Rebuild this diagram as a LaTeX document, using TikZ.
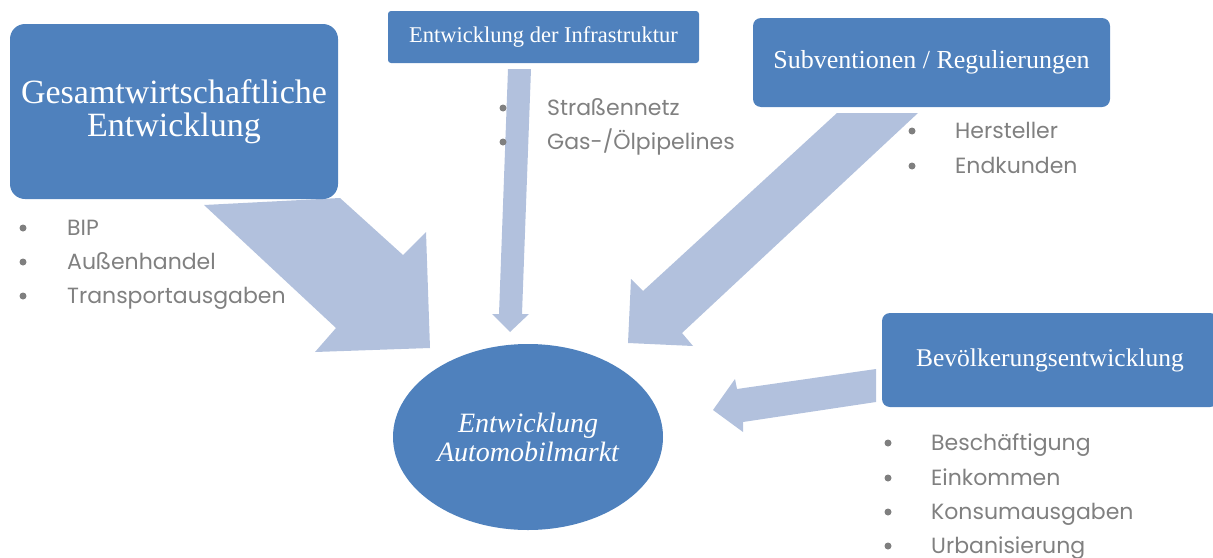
\documentclass[tikz,border=0pt]{standalone}
\usepackage{fontspec}
\setmainfont{Liberation Serif}
\newfontfamily\itemfont{Poppins}
\usetikzlibrary{shapes.geometric}
\definecolor{boxblue}{HTML}{4F81BD}
\definecolor{arrowblue}{HTML}{B2C1DD}
\definecolor{itemgrey}{HTML}{808080}
\definecolor{dotgrey}{HTML}{7F7F7F}
\begin{document}
\begin{tikzpicture}[x=1pt,y=-1pt,
  box/.style={fill=boxblue, text=white, inner sep=0pt, align=center},
  arr/.style={fill=arrowblue},
  item/.style={anchor=base west, inner sep=0pt, text=itemgrey, font=\itemfont\fontsize{22}{34}\selectfont},
  dot/.style={circle, fill=dotgrey, inner sep=0pt, minimum size=7pt}]
\useasboundingbox (0,0) rectangle (1213,557);
\clip (0,0) rectangle (1213,557);

% block arrows
\fill[arr] (204,205) -- (336,328) -- (315,352) -- (430,348) -- (426,232) -- (403,255) -- (340,198) -- cycle;
\fill[arr] (508,69) -- (499,314) -- (492,314) -- (510,332) -- (529,314) -- (522,314) -- (531,69) -- cycle;
\fill[arr] (837,113) -- (643,291) -- (631,279) -- (628,343) -- (693,346) -- (682,333) -- (918,113) -- cycle;
\fill[arr] (876,369) -- (737,389) -- (735,379) -- (713,410) -- (743,432) -- (743,422) -- (876,402) -- cycle;

% boxes
\node[box, rectangle, rounded corners=15pt, minimum width=328pt, minimum height=175pt,
  font=\fontsize{34}{33}\selectfont] (ges) at (174,111.5) {Gesamtwirtschaftliche\\Entwicklung};
\node[box, rectangle, rounded corners=3pt, minimum width=311pt, minimum height=52pt,
  font=\fontsize{22.5}{27}\selectfont] (inf) at (543.5,37) {Entwicklung der Infrastruktur};
\node[box, rectangle, rounded corners=8pt, minimum width=357pt, minimum height=89pt,
  font=\fontsize{26}{30}\selectfont] (sub) at (931.5,62.5) {Subventionen / Regulierungen};
\node[box, rectangle, rounded corners=8pt, minimum width=336pt, minimum height=94pt,
  font=\fontsize{25.5}{30}\selectfont] (bev) at (1050,360) {Bevölkerungsentwicklung};
\node[box, ellipse, minimum width=270pt, minimum height=186pt,
  font=\itshape\fontsize{28}{29}\selectfont] (mkt) at (528,437) {Entwicklung\\Automobilmarkt};

% lists
\node[dot] (gd1) at (23,228) {};
\node[dot] (gd2) at (23,262) {};
\node[dot] (gd3) at (23,296) {};
\node[item] (g1) at (67,235) {BIP};
\node[item] (g2) at (67,269) {Außenhandel};
\node[item] (g3) at (67,303) {Transportausgaben};

\node[dot] (id1) at (503,108) {};
\node[dot] (id2) at (503,142) {};
\node[item] (i1) at (547,115) {Straßennetz};
\node[item] (i2) at (547,149) {Gas-/Ölpipelines};

\node[dot] (sd1) at (912,131) {};
\node[dot] (sd2) at (912,166) {};
\node[item] (s1) at (955,138) {Hersteller};
\node[item] (s2) at (955,173) {Endkunden};

\node[dot] (bd1) at (888,443) {};
\node[dot] (bd2) at (888,478) {};
\node[dot] (bd3) at (888,512) {};
\node[dot] (bd4) at (888,546) {};
\node[item] (b1) at (931,450) {Beschäftigung};
\node[item] (b2) at (931,485) {Einkommen};
\node[item] (b3) at (931,519) {Konsumausgaben};
\node[item] (b4) at (931,553) {Urbanisierung};
\end{tikzpicture}
\end{document}
